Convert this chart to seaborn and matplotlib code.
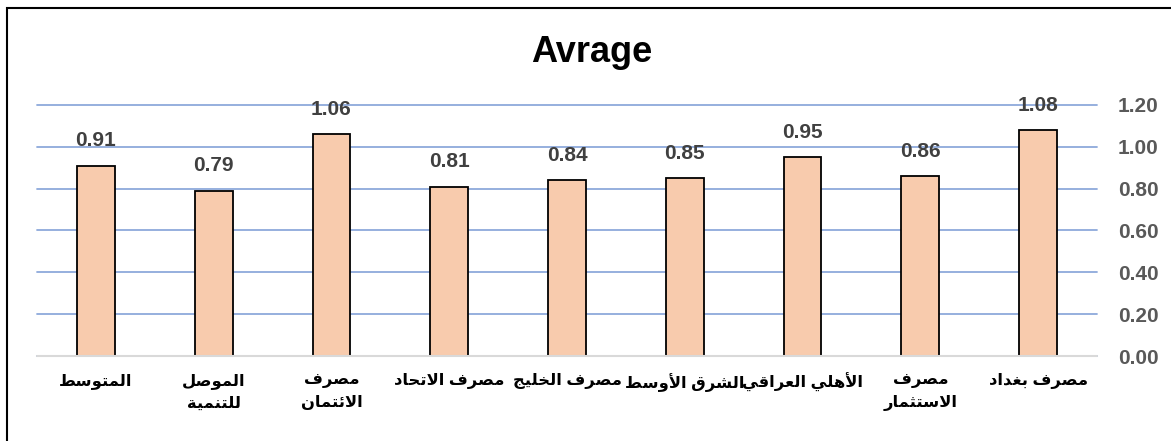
import numpy as np
import pandas as pd
import matplotlib
matplotlib.use('Agg')
import matplotlib.pyplot as plt
from matplotlib.patches import Rectangle
import seaborn as sns

# data, in the order of the sheet (read right to left on the chart)
banks = ['مصرف بغداد', 'مصرف\nالاستثمار', 'الأهلي العراقي', 'الشرق الأوسط',
         'مصرف الخليج', 'مصرف الاتحاد', 'مصرف\nالائتمان', 'الموصل\nللتنمية', 'المتوسط']
values = [1.08, 0.86, 0.95, 0.85, 0.84, 0.81, 1.06, 0.79, 0.91]
yticks = [0.0, 0.2, 0.4, 0.6, 0.8, 1.0, 1.2]
title = 'Avrage'

# matplotlib has no arabic shaping, so pick presentation forms by hand
DUAL = {'ئ': 0xFE89, 'ب': 0xFE8F, 'ت': 0xFE95, 'ث': 0xFE99, 'ج': 0xFE9D, 'ح': 0xFEA1,
        'خ': 0xFEA5, 'س': 0xFEB1, 'ش': 0xFEB5, 'ص': 0xFEB9, 'ط': 0xFEC1, 'ع': 0xFEC9,
        'غ': 0xFECD, 'ف': 0xFED1, 'ق': 0xFED5, 'ل': 0xFEDD, 'م': 0xFEE1, 'ن': 0xFEE5,
        'ه': 0xFEE9, 'ي': 0xFEF1}
RIGHT = {'ا': 0xFE8D, 'أ': 0xFE83, 'ة': 0xFE93, 'د': 0xFEA9, 'ر': 0xFEAD, 'و': 0xFEED}
LAM_ALEF = {'ا': 0xFEFB, 'أ': 0xFEF7}


def shape_line(line):
    out = []
    prev_join = False
    i = 0
    while i < len(line):
        c = line[i]
        nxt = line[i + 1] if i + 1 < len(line) else ''
        if c == 'ل' and nxt in LAM_ALEF:
            out.append(chr(LAM_ALEF[nxt] + int(prev_join)))
            prev_join = False
            i += 2
            continue
        if c in DUAL:
            join_next = nxt in DUAL or nxt in RIGHT
            if prev_join and join_next:
                f = 3
            elif prev_join:
                f = 1
            elif join_next:
                f = 2
            else:
                f = 0
            out.append(chr(DUAL[c] + f))
            prev_join = join_next
        elif c in RIGHT:
            out.append(chr(RIGHT[c] + int(prev_join)))
            prev_join = False
        else:
            out.append(c)
            prev_join = False
        i += 1
    return ''.join(reversed(out))


def shape(text):
    return '\n'.join(shape_line(l) for l in text.split('\n'))


sns.set_style('white')
plt.rcParams['font.family'] = ['Liberation Sans', 'DejaVu Sans']

df = pd.DataFrame({'bank': banks, 'value': values})
order = banks[::-1]

fig = plt.figure(figsize=(11.71, 4.41), dpi=100)
ax = fig.add_axes([37 / 1171, 1 - 356 / 441, 1060 / 1171, 251 / 441])

sns.barplot(data=df, x='bank', y='value', order=order, color='#F8CBAD', saturation=1,
            edgecolor='black', linewidth=1.3, width=0.32, ax=ax)

ax.set_ylim(0, 1.2)
ax.set_xlim(-0.5, len(order) - 0.5)
ax.set_yticks(yticks)
ax.set_yticklabels(['%.2f' % t for t in yticks])
ax.yaxis.tick_right()
ax.tick_params(axis='y', length=0, pad=15, labelsize=15, labelcolor='#595959')
for t in ax.get_yticklabels():
    t.set_fontweight('bold')

ax.set_xticks(range(len(order)))
ax.set_xticklabels([shape(b) for b in order], fontsize=11.8, fontweight='bold',
                   color='black', multialignment='center', linespacing=1.6)
ax.tick_params(axis='x', length=0, pad=12)
ax.set_xlabel('')
ax.set_ylabel('')

ax.set_axisbelow(True)
ax.yaxis.grid(True, color='#8EA9DB', linewidth=1.3)
for gl in ax.get_ygridlines():
    gl.set_clip_on(False)
base = ax.axhline(0, color='#D9D9D9', linewidth=1.5, zorder=1.5)
base.set_clip_on(False)
for s in ax.spines.values():
    s.set_visible(False)

ax.bar_label(ax.containers[0], fmt='%.2f', padding=11, fontsize=15,
             fontweight='bold', color='#404040')

fig.text(592 / 1171, 1 - 52 / 441, title, ha='center', va='center',
         fontsize=26, fontweight='bold', color='black')

fig.patches.append(Rectangle((7 / 1171, -0.1), 1.2, 1 - 8 / 441 + 0.1,
                             transform=fig.transFigure, fill=False,
                             edgecolor='black', linewidth=1.5))

fig.savefig('out.png', dpi=100)
